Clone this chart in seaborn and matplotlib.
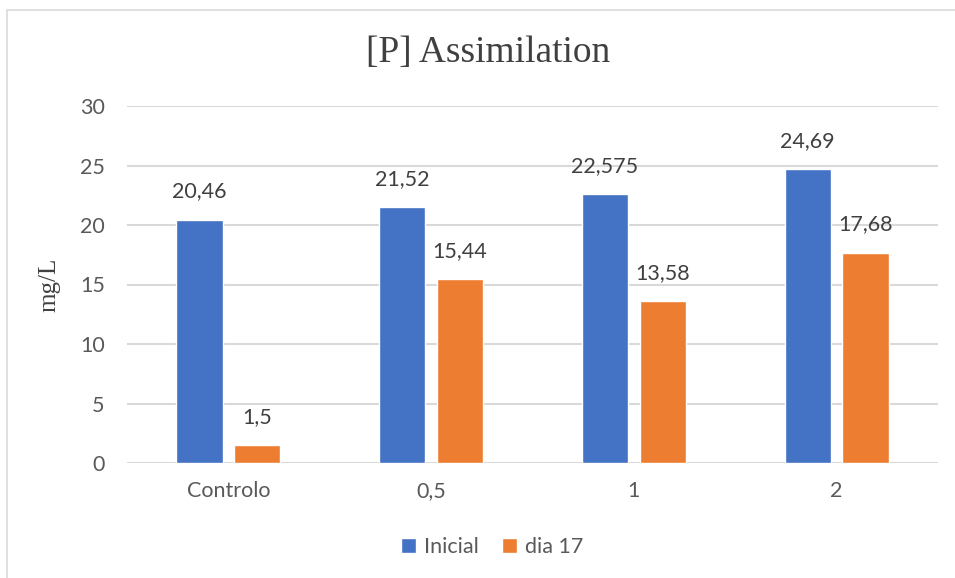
import matplotlib
matplotlib.use("Agg")
import matplotlib.pyplot as plt
import matplotlib.patches as mpatches
import seaborn as sns
import pandas as pd

categories = ["Controlo", "0,5", "1", "2"]
series_names = ["Inicial", "dia 17"]
inicial = [20.46, 21.52, 22.575, 24.69]
dia17 = [1.5, 15.44, 13.58, 17.68]
y_ticks = [0, 5, 10, 15, 20, 25, 30]

colors = ["#4472C4", "#ED7D31"]
text_color = "#595959"
grid_color = "#D9D9D9"

df = pd.DataFrame({
    "categoria": categories * 2,
    "valor": inicial + dia17,
    "serie": [series_names[0]] * len(categories) + [series_names[1]] * len(categories),
})

sns.set_theme(style="white")
plt.rcParams["font.family"] = ["Lato", "DejaVu Sans"]

fig = plt.figure(figsize=(9.55, 5.78), dpi=100)
ax = fig.add_axes([127 / 955, 1 - 463 / 578, (938 - 127) / 955, (463 - 106) / 578])

sns.barplot(data=df, x="categoria", y="valor", hue="serie", palette=colors,
            width=0.571, gap=0.2, order=categories, hue_order=series_names,
            saturation=1, ax=ax, legend=True)

ax.set_ylim(0, 30)
ax.set_xlim(-0.5, len(categories) - 0.5)
ax.set_yticks(y_ticks)
ax.set_yticklabels([str(t) for t in y_ticks])
ax.yaxis.grid(True, color=grid_color, linewidth=1.5)
ax.set_axisbelow(True)
for s in ax.spines.values():
    s.set_visible(False)
ax.tick_params(axis="both", length=0, labelsize=15.5, labelcolor=text_color)
ax.tick_params(axis="x", pad=13)
ax.tick_params(axis="y", pad=16)
ax.set_xlabel("")
ax.set_ylabel("mg/L", family="Liberation Serif", fontsize=18, color="#404040", labelpad=14)

for container in ax.containers:
    labels = [f"{v:g}".replace(".", ",") for v in container.datavalues]
    ax.bar_label(container, labels=labels, padding=13, fontsize=15.5, color="#404040")

fig.text(488 / 955, 1 - 53 / 578, "[P] Assimilation", family="Liberation Serif",
         fontsize=27, color="#404040", ha="center", va="center")

handles, lbls = ax.get_legend_handles_labels()
ax.legend(handles, lbls, loc="center", bbox_to_anchor=(492 / 955, 1 - 547 / 578),
          bbox_transform=fig.transFigure, ncol=2, frameon=False, fontsize=15.5,
          labelcolor=text_color, handlelength=0.7, handleheight=0.7,
          handletextpad=0.35, columnspacing=1.1)

fig.add_artist(mpatches.Rectangle((7 / 955, -0.05), 1.1, 0.05 + 1 - 10 / 578,
                                  transform=fig.transFigure, fill=False,
                                  edgecolor=grid_color, linewidth=1.2))

fig.savefig("out.png", dpi=100)
